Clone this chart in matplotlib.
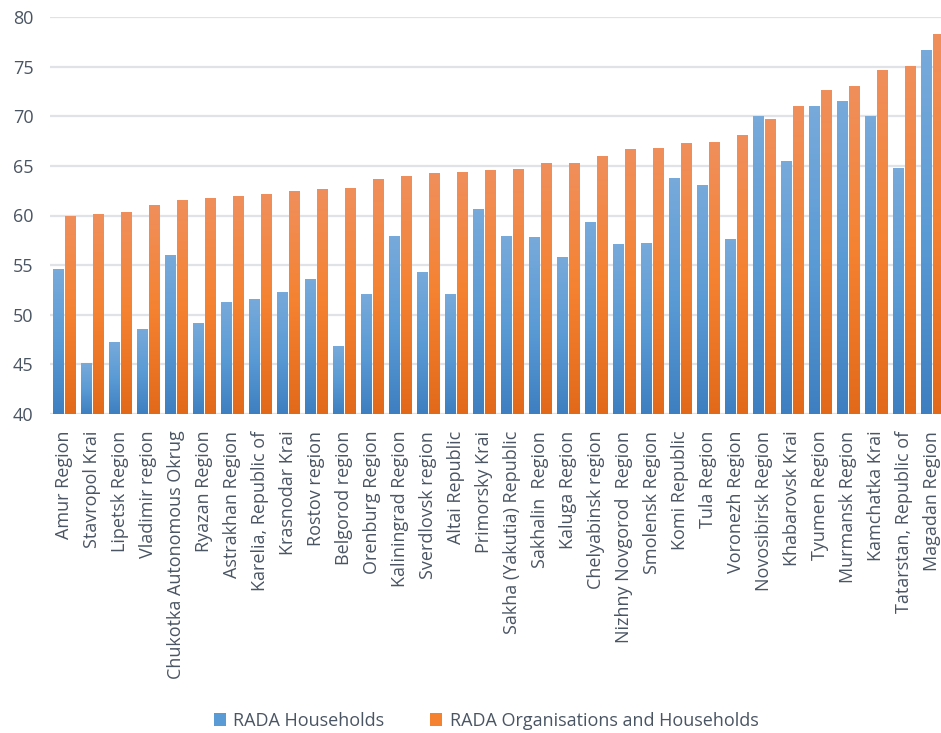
import numpy as np
import matplotlib
matplotlib.use('Agg')
import matplotlib.pyplot as plt
from matplotlib.colors import LinearSegmentedColormap
from matplotlib.patches import Patch

plt.rcParams['font.family'] = ['Open Sans', 'DejaVu Sans']

regions = ['Amur Region', 'Stavropol Krai', 'Lipetsk Region', 'Vladimir region',
           'Chukotka Autonomous Okrug', 'Ryazan Region', 'Astrakhan Region',
           'Karelia, Republic of', 'Krasnodar Krai', 'Rostov region', 'Belgorod region',
           'Orenburg Region', 'Kaliningrad Region', 'Sverdlovsk region', 'Altai Republic',
           'Primorsky Krai', 'Sakha (Yakutia) Republic', 'Sakhalin  Region', 'Kaluga Region',
           'Chelyabinsk region', 'Nizhny Novgorod  Region', 'Smolensk Region', 'Komi Republic',
           'Tula Region', 'Voronezh Region', 'Novosibirsk Region', 'Khabarovsk Krai',
           'Tyumen Region', 'Murmansk Region', 'Kamchatka Krai', 'Tatarstan, Republic of',
           'Magadan Region']

households = [54.6, 45.1, 47.3, 48.6, 56.0, 49.2, 51.3, 51.6, 52.3, 53.6, 46.9,
              52.1, 57.9, 54.3, 52.1, 60.7, 57.9, 57.8, 55.8, 59.3, 57.1, 57.2,
              63.8, 63.1, 57.6, 70.0, 65.5, 71.0, 71.5, 70.0, 64.8, 76.7]
org_households = [60.0, 60.2, 60.4, 61.1, 61.6, 61.8, 62.0, 62.2, 62.5, 62.7, 62.8,
                  63.7, 64.0, 64.3, 64.4, 64.6, 64.7, 65.3, 65.3, 66.0, 66.7, 66.8,
                  67.3, 67.4, 68.1, 69.7, 71.0, 72.6, 73.0, 74.7, 75.1, 78.3]

blue_cmap = LinearSegmentedColormap.from_list('b', ['#3e7fc1', '#5b9bd5', '#78aadb'])
orange_cmap = LinearSegmentedColormap.from_list('o', ['#e2691a', '#f58231', '#f08f5c'])

fig = plt.figure(figsize=(9.41, 7.33), dpi=100)
ax = fig.add_axes([50 / 941, 1 - 414 / 733, 896 / 941, 397 / 733])

x = np.arange(len(regions))
w = 0.36
grad = np.linspace(0, 1, 256).reshape(-1, 1)


def gradient_bars(xs, vals, cmap):
    bars = ax.bar(xs, vals, w, bottom=0, color='none', edgecolor='none', zorder=2)
    for b in bars:
        x0, y0 = b.get_x(), 40
        im = ax.imshow(grad, cmap=cmap, origin='lower', aspect='auto',
                       extent=[x0, x0 + b.get_width(), y0, b.get_height()], zorder=2)
        im.set_clip_path(b)
    return bars


gradient_bars(x - w / 2 - 0.02, households, blue_cmap)
gradient_bars(x + w / 2 + 0.02, org_households, orange_cmap)

ax.set_xlim(-0.5, len(regions) - 0.5)
ax.set_ylim(40, 80)
ax.set_yticks(np.arange(40, 81, 5))
ax.yaxis.grid(True, color='#dfe3e8', lw=1.6, zorder=0)
ax.set_axisbelow(True)
for s in ax.spines.values():
    s.set_visible(False)
ax.tick_params(length=0, labelsize=13, colors='#4a5563')
ax.tick_params(axis='y', pad=12)
ax.set_xticks(x)
ax.set_xticklabels(regions, rotation=90, va='top', ha='center')
ax.tick_params(axis='x', pad=12)

handles = [Patch(facecolor='#5b9bd5', label='RADA Households'),
           Patch(facecolor='#f58231', label='RADA Organisations and Households')]
fig.legend(handles=handles, loc='center', bbox_to_anchor=(486 / 941, 1 - 721 / 733),
           ncol=2, frameon=False, fontsize=13, handlelength=0.7, handleheight=0.7,
           columnspacing=2.5, handletextpad=0.4, labelcolor='#4a5563')

fig.savefig('out.png', dpi=100)
